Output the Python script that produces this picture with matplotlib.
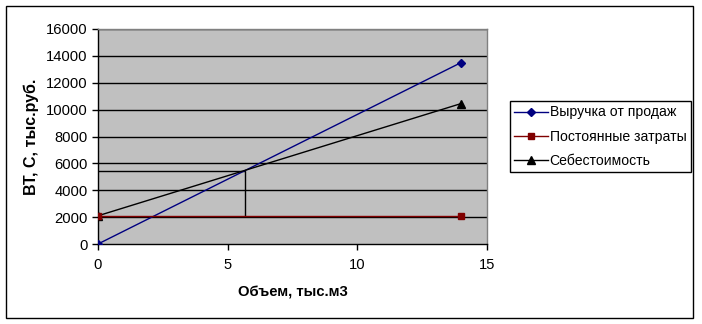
import matplotlib
matplotlib.use("Agg")
import matplotlib.pyplot as plt
from matplotlib.patches import Rectangle

plt.rcParams['font.family'] = ['Liberation Sans', 'DejaVu Sans']

# Break-even data, volume in thousand m3, money in thousand rub.
volume = [0, 14]
revenue = [0, 13500]
fixed_costs = [2100, 2100]
total_costs = [2100, 10450]

# break-even point guide lines
be_x = [0, 5.65, 5.65]
be_y = [5400, 5400, 2100]

fig = plt.figure(figsize=(7.02, 3.24), dpi=100)
ax = fig.add_axes([98 / 702, 1 - 244 / 324, 389 / 702, 215 / 324])
ax.set_facecolor('#c0c0c0')

for y in range(2000, 16001, 2000):
    ax.axhline(y, color='black', linewidth=1.0, zorder=1)

ax.plot(be_x, be_y, color='black', linewidth=1.0, zorder=2)
ax.plot(volume, revenue, color='#000080', linewidth=1.0, marker='D', markersize=4.5,
        label='Выручка от продаж', zorder=3)
ax.plot(volume, fixed_costs, color='#800000', linewidth=1.0, marker='s', markersize=5,
        label='Постоянные затраты', zorder=4)
ax.plot(volume, total_costs, color='black', linewidth=1.0, marker='^', markersize=5.5,
        label='Себестоимость', zorder=3)

ax.set_xlim(0, 15)
ax.set_ylim(0, 16000)
ax.set_xticks([0, 5, 10, 15])
ax.set_yticks(range(0, 16001, 2000))
ax.tick_params(labelsize=10.6, length=4, width=1, direction='out', color='black')
ax.tick_params(axis='x', pad=6)
for side in ['left', 'bottom']:
    ax.spines[side].set_color('black')
    ax.spines[side].set_linewidth(1.0)
for side in ['top', 'right']:
    ax.spines[side].set_color('#808080')
    ax.spines[side].set_linewidth(1.0)

ax.set_xlabel('Объем, тыс.м3', fontsize=10.7, fontweight='bold', labelpad=10)
ax.set_ylabel('ВТ, С, тыс.руб.', fontsize=11.5, fontweight='bold', labelpad=5)

leg = ax.legend(loc='upper left', bbox_to_anchor=(510 / 702, 1 - 101 / 324),
                bbox_transform=fig.transFigure, fontsize=10.1, frameon=True,
                fancybox=False, edgecolor='black', framealpha=1,
                handlelength=2.4, handletextpad=0.1, borderpad=0.32,
                labelspacing=0.72, borderaxespad=0)
leg.get_frame().set_linewidth(1.0)

# outer chart border
fig.patches.append(Rectangle((6 / 702, 1 - 318 / 324), 687 / 702, 312 / 324,
                             transform=fig.transFigure, fill=False,
                             edgecolor='black', linewidth=1.0))

fig.savefig('out.png', dpi=100)
